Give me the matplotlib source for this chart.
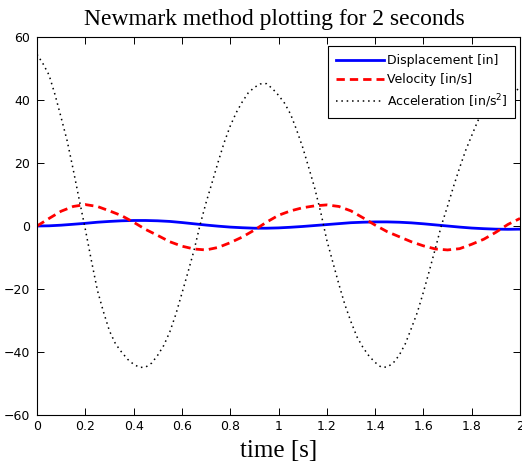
"""
Newmark method plotting for 2 seconds
"""

import matplotlib
matplotlib.use('Agg')
import matplotlib.pyplot as plt

# time steps [s]
t = [0.00, 0.05, 0.10, 0.15, 0.20, 0.25, 0.30, 0.35, 0.40, 0.45,
     0.50, 0.55, 0.60, 0.65, 0.70, 0.75, 0.80, 0.85, 0.90, 0.95,
     1.00, 1.05, 1.10, 1.15, 1.20, 1.25, 1.30, 1.35, 1.40, 1.45,
     1.50, 1.55, 1.60, 1.65, 1.70, 1.75, 1.80, 1.85, 1.90, 1.95, 2.00]

# displacement [in]
disp = [0.00, 0.06, 0.26, 0.55, 0.85, 1.20, 1.45, 1.65, 1.75, 1.75,
        1.65, 1.45, 1.10, 0.70, 0.30, -0.05, -0.35, -0.55, -0.70, -0.70,
        -0.60, -0.40, -0.15, 0.15, 0.45, 0.75, 1.05, 1.20, 1.30, 1.30,
        1.20, 1.00, 0.70, 0.35, 0.00, -0.35, -0.65, -0.85, -1.00, -1.05, -1.00]

# velocity [in/s]
vel = [0.0, 2.4, 4.7, 6.2, 6.8, 6.2, 4.8, 3.3, 1.2, -1.1,
       -3.0, -5.0, -6.4, -7.3, -7.6, -6.8, -5.3, -3.5, -1.3, 1.2,
       3.4, 4.8, 5.8, 6.4, 6.7, 6.2, 4.8, 2.6, 0.3, -1.8,
       -3.4, -5.0, -6.3, -7.3, -7.6, -7.2, -5.8, -4.2, -2.0, 0.5, 2.4]

# acceleration is read on a finer step [s]
t_acc = [0.000, 0.025, 0.050, 0.075, 0.100, 0.125, 0.150, 0.175, 0.200, 0.225,
         0.250, 0.275, 0.300, 0.325, 0.350, 0.375, 0.400, 0.425, 0.450, 0.475,
         0.500, 0.525, 0.550, 0.575, 0.600, 0.625, 0.650, 0.675, 0.700, 0.725,
         0.750, 0.775, 0.800, 0.825, 0.850, 0.875, 0.900, 0.925, 0.950, 0.975,
         1.000, 1.025, 1.050, 1.075, 1.100, 1.125, 1.150, 1.175, 1.200, 1.225,
         1.250, 1.275, 1.300, 1.325, 1.350, 1.375, 1.400, 1.425, 1.450, 1.475,
         1.500, 1.525, 1.550, 1.575, 1.600, 1.625, 1.650, 1.675, 1.700, 1.725,
         1.750, 1.775, 1.800, 1.825, 1.850, 1.875, 1.900, 1.925, 1.950, 1.975,
         2.000]

# acceleration [in/s^2]
acc = [54.5, 51.5, 47.9, 41.6, 34.4, 27.0, 17.9, 8.3, -1.0, -10.9,
       -20.4, -27.2, -33.3, -37.4, -40.0, -42.3, -43.9, -44.9, -44.8, -43.5,
       -41.0, -37.9, -33.6, -28.0, -21.4, -14.7, -7.8, 0.3, 7.4, 13.8,
       20.3, 26.5, 31.7, 36.0, 39.4, 42.3, 44.0, 45.1, 45.2, 43.6,
       41.5, 39.0, 35.5, 30.5, 25.0, 18.6, 12.0, 4.3, -4.5, -11.5,
       -18.5, -25.0, -30.4, -35.2, -38.6, -41.3, -43.3, -44.8, -44.8, -43.5,
       -41.0, -37.4, -32.5, -27.4, -21.0, -14.1, -7.0, 0.3, 6.3, 12.6,
       18.5, 24.0, 28.7, 33.3, 37.0, 40.3, 42.5, 44.2, 44.8, 44.3,
       42.6]

xticks = [0, 0.2, 0.4, 0.6, 0.8, 1, 1.2, 1.4, 1.6, 1.8, 2]
xticklabels = ['0', '0.2', '0.4', '0.6', '0.8', '1', '1.2', '1.4', '1.6', '1.8', '2']
yticks = [-60, -40, -20, 0, 20, 40, 60]

sans = ['DejaVu Sans']
serif = ['Liberation Serif', 'DejaVu Serif']

fig = plt.figure(figsize=(5.22, 4.70), dpi=100)
ax = fig.add_axes([37 / 522, 1 - 415 / 470, 483 / 522, 378 / 470])

ax.plot(t, disp, color='blue', linewidth=2.0, label='Displacement [in]')
ax.plot(t, vel, color='red', linewidth=2.0, linestyle=(0, (3, 1.8)),
        label='Velocity [in/s]')
ax.plot(t_acc, acc, color='black', linewidth=1.1, linestyle=(0, (1, 2.5)),
        label='Acceleration [in/s$^2$]')

ax.set_xlim(0, 2)
ax.set_ylim(-60, 60)
ax.set_xticks(xticks)
ax.set_xticklabels(xticklabels)
ax.set_yticks(yticks)

ax.tick_params(direction='in', top=True, right=True, length=5, width=0.7,
               labelsize=9)
ax.tick_params(axis='x', pad=3.5)
ax.tick_params(axis='y', pad=5)
for lab in ax.get_xticklabels() + ax.get_yticklabels():
    lab.set_family(sans)
for sp in ax.spines.values():
    sp.set_linewidth(0.8)

ax.set_title('Newmark method plotting for 2 seconds', fontsize=17,
             family=serif, pad=8.5, x=0.492)
ax.set_xlabel('time [s]', fontsize=18, family=serif, labelpad=5)

leg = ax.legend(loc='upper right', bbox_to_anchor=(0.9896, 0.975),
                borderaxespad=0, prop={'family': sans, 'size': 9},
                handlelength=3.9, handletextpad=0.2, borderpad=0.6,
                labelspacing=0.5, fancybox=False, framealpha=1)
leg.get_frame().set_edgecolor('black')
leg.get_frame().set_linewidth(0.8)

plt.savefig('out.png', dpi=100)
plt.close()
